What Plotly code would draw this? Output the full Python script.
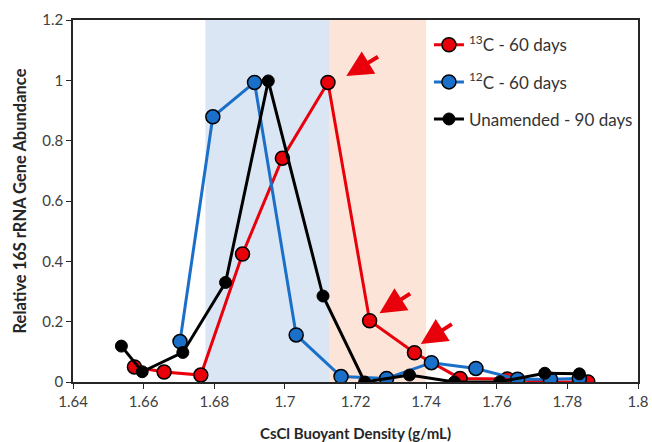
import plotly.graph_objects as go

# Data
c13_x = [1.6574, 1.6658, 1.6762, 1.6880, 1.6993, 1.7122, 1.7240, 1.7367, 1.7496, 1.7630, 1.7752, 1.7858]
c13_y = [0.050, 0.033, 0.023, 0.424, 0.742, 0.993, 0.203, 0.097, 0.012, 0.010, 0.000, 0.000]

c12_x = [1.6703, 1.6796, 1.6914, 1.7032, 1.7159, 1.7288, 1.7415, 1.7541, 1.7659, 1.7752, 1.7834]
c12_y = [0.134, 0.879, 0.993, 0.156, 0.018, 0.012, 0.064, 0.045, 0.009, 0.009, 0.012]

un_x = [1.6537, 1.6596, 1.6711, 1.6832, 1.6953, 1.7108, 1.7226, 1.7353, 1.7480, 1.7609, 1.7736, 1.7834]
un_y = [0.119, 0.034, 0.098, 0.330, 0.998, 0.285, 0.000, 0.023, 0.000, 0.001, 0.029, 0.027]

blue_band = [1.6775, 1.7125]
pink_band = [1.7125, 1.7400]

# arrows: (tip_x, tip_y, tail_x, tail_y)
arrows = [
    (1.7174, 1.014, 1.7268, 1.081),
    (1.7268, 0.228, 1.7359, 0.296),
    (1.7385, 0.126, 1.7477, 0.195),
]

FONT = "Lato"

fig = go.Figure()
fig.add_trace(go.Scatter(
    x=c13_x, y=c13_y, mode="lines+markers", name="<sup>13</sup>C - 60 days",
    legendgroup="a",
    line=dict(color="#e8000b", width=3),
    marker=dict(color="#e8000b", size=14, line=dict(color="black", width=1.5)),
))
fig.add_trace(go.Scatter(
    x=c12_x, y=c12_y, mode="lines+markers", name="<sup>12</sup>C - 60 days",
    legendgroup="b",
    line=dict(color="#1a6fc9", width=3),
    marker=dict(color="#1a6fc9", size=14, line=dict(color="black", width=1.5)),
))
fig.add_trace(go.Scatter(
    x=un_x, y=un_y, mode="lines+markers", name="Unamended - 90 days",
    legendgroup="c",
    line=dict(color="black", width=3),
    marker=dict(color="black", size=12, line=dict(color="black", width=1)),
))

fig.add_shape(type="rect", xref="x", yref="y", x0=blue_band[0], x1=blue_band[1], y0=0, y1=1.2,
              fillcolor="#dae6f4", line=dict(width=0), layer="below")
fig.add_shape(type="rect", xref="x", yref="y", x0=pink_band[0], x1=pink_band[1], y0=0, y1=1.2,
              fillcolor="#fde4d8", line=dict(width=0), layer="below")

for tx, ty, sx, sy in arrows:
    fig.add_annotation(x=tx, y=ty, ax=sx, ay=sy, xref="x", yref="y", axref="x", ayref="y",
                       text="", showarrow=True, arrowhead=2, arrowsize=1.3, arrowwidth=4,
                       arrowcolor="#e8000b", standoff=0, startstandoff=0)

fig.update_layout(
    width=652, height=442,
    margin=dict(l=73, r=14, t=20, b=60),
    plot_bgcolor="white", paper_bgcolor="white",
    font=dict(family=FONT, size=15, color="#404040"),
    showlegend=True,
    legend=dict(x=0.63, y=0.98, xanchor="left", yanchor="top",
                bgcolor="rgba(0,0,0,0)", font=dict(size=17, color="#333333"),
                tracegroupgap=12),
    xaxis=dict(range=[1.64, 1.8], tickvals=[1.64, 1.66, 1.68, 1.70, 1.72, 1.74, 1.76, 1.78, 1.80],
               ticktext=["1.64", "1.66", "1.68", "1.7", "1.72", "1.74", "1.76", "1.78", "1.8"],
               showgrid=False, zeroline=False, showline=True, linecolor="#262626", linewidth=1.5,
               mirror=True, ticks="outside", ticklen=5, tickcolor="#262626", automargin=False,
               title=dict(text="<b>CsCl Buoyant Density (g/mL)</b>", font=dict(size=15, color="#262626"), standoff=20)),
    yaxis=dict(range=[0, 1.2], tickvals=[0, 0.2, 0.4, 0.6, 0.8, 1.0, 1.2],
               ticktext=["0", "0.2", "0.4", "0.6", "0.8", "1", "1.2"],
               showgrid=False, zeroline=False, showline=True, linecolor="#262626", linewidth=1.5,
               mirror=True, ticks="outside", ticklen=5, tickcolor="#262626", automargin=False,
               title=dict(text="<b>Relative 16S rRNA Gene Abundance</b>", font=dict(size=16.5, color="#262626"), standoff=12)),
)

fig.write_html("out.html", config={"displayModeBar": False},
               post_script="document.body.style.margin='0';document.body.style.padding='0';")
